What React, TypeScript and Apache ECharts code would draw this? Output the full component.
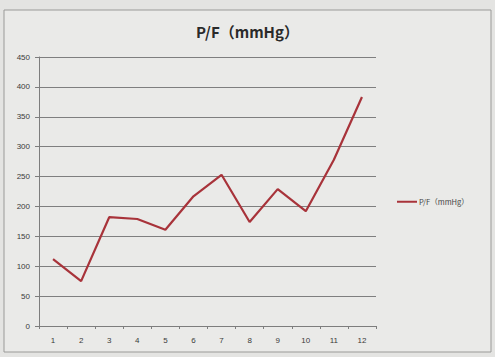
import React, { useEffect, useRef } from "react";
import * as echarts from "echarts";

const categories = ["1", "2", "3", "4", "5", "6", "7", "8", "9", "10", "11", "12"];
const pfValues = [112, 75, 182, 179, 161, 217, 253, 174, 229, 192, 278, 383];
const seriesName = "P/F（mmHg）";
const titleText = "P/F（mmHg）";

export default function App() {
  const ref = useRef<HTMLDivElement>(null);
  useEffect(() => {
    if (!ref.current) return;
    const chart = echarts.init(ref.current, null, { renderer: "svg" });
    chart.setOption({
      animation: false,
      backgroundColor: "#e4e4e2",
      graphic: [
        {
          type: "rect",
          shape: { x: 4, y: 10, width: 487, height: 342 },
          style: { fill: "#eaeae8", stroke: "#9a9a98", lineWidth: 1 },
          z: -10,
          silent: true,
        },
      ],
      title: {
        text: titleText,
        left: "center",
        top: 19,
        textStyle: {
          fontFamily: "Noto Sans CJK SC",
          fontSize: 15,
          fontWeight: "bold",
          color: "#2a2a2a",
        },
      },
      legend: {
        left: 392,
        top: 193,
        icon: "rect",
        itemWidth: 20,
        itemHeight: 2,
        itemGap: 2,
        textStyle: { fontSize: 7.5, color: "#444", fontFamily: "Noto Sans CJK SC", padding: [0, 0, 0, -3] },
        data: [seriesName],
      },
      grid: { left: 39, right: 119, top: 57, bottom: 31, containLabel: false },
      xAxis: {
        type: "category",
        data: categories,
        boundaryGap: true,
        axisLine: { lineStyle: { color: "#7d7d7d", width: 1 } },
        axisTick: { show: true, length: 3, lineStyle: { color: "#7d7d7d" } },
        axisLabel: { fontSize: 8, color: "#3a3a3a", margin: 10, fontFamily: "Liberation Sans" },
      },
      yAxis: {
        type: "value",
        min: 0,
        max: 450,
        interval: 50,
        axisLine: { show: true, lineStyle: { color: "#7d7d7d", width: 1 } },
        axisTick: { show: true, length: 4, lineStyle: { color: "#7d7d7d" } },
        axisLabel: { fontSize: 8, color: "#3a3a3a", margin: 9, fontFamily: "Liberation Sans" },
        splitLine: { show: true, lineStyle: { color: "#7f7f7f", width: 1 } },
      },
      series: [
        {
          name: seriesName,
          type: "line",
          data: pfValues,
          symbol: "none",
          lineStyle: { color: "#a8333a", width: 2.2 },
          itemStyle: { color: "#a8333a" },
        },
      ],
    });
    return () => chart.dispose();
  }, []);
  return (
    <div
      ref={ref}
      style={{ position: "absolute", left: 0, top: 0, width: 495, height: 357 }}
    />
  );
}
